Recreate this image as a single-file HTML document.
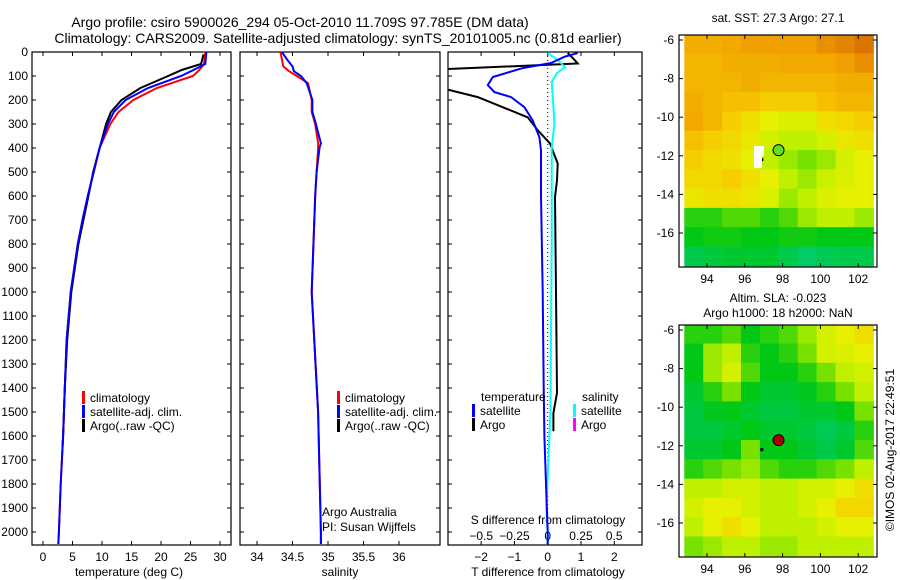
<!DOCTYPE html>
<html><head><meta charset="utf-8">
<style>
body{margin:0;background:#fff;}
svg{display:block;font-family:"Liberation Sans",sans-serif;}
text{fill:#000;}
</style></head>
<body>
<svg id="fig" width="900" height="580" viewBox="0 0 900 580" xmlns="http://www.w3.org/2000/svg">
<defs>
<clipPath id="c3"><rect x="448" y="52" width="194" height="493"/></clipPath>
<clipPath id="cm1"><rect x="679" y="35" width="198" height="232"/></clipPath>
<clipPath id="cm2"><rect x="679" y="325" width="198" height="232"/></clipPath>
</defs>
<text x="300" y="27" font-size="14" text-anchor="middle">Argo profile: csiro 5900026_294 05-Oct-2010 11.709S 97.785E (DM data)</text>
<text x="338" y="43" font-size="14" text-anchor="middle">Climatology: CARS2009. Satellite-adjusted climatology: synTS_20101005.nc (0.81d earlier)</text>
<g id="layer"></g>
<text x="778" y="22" font-size="12" text-anchor="middle">sat. SST: 27.3 Argo: 27.1</text>
<text x="778" y="302" font-size="12" text-anchor="middle">Altim. SLA: -0.023</text>
<text x="778" y="317" font-size="12" text-anchor="middle">Argo h1000: 18 h2000: NaN</text>
<text x="0" y="0" font-size="12" text-anchor="middle" transform="translate(894,450) rotate(-90)">©IMOS 02-Aug-2017 22:49:51</text>
</svg>
<script>
// ---- profile data ----
const tDepthClim=[0,50,75,100,150,200,250,300,400,500,600,700,800,1000,1200,1400,1600,1800,2000,2050];
const tClim=[27.5,27.3,26.5,25.4,19.3,15.3,12.8,11.4,9.6,8.6,7.6,6.7,5.9,4.7,4.0,3.7,3.4,3.0,2.7,2.6];
const tSat=[27.7,27.5,25.5,23.4,17.8,14.0,12.0,11.0,9.6,8.6,7.6,6.7,5.9,4.7,4.0,3.7,3.4,3.0,2.7,2.6];
const tDepthArgo=[10,50,75,100,150,200,250,300,400,500,600,800,1000,1200,1400,1600,1650];
const tArgo=[27.2,26.8,23.5,21.2,16.5,13.3,11.5,10.7,9.6,8.5,7.7,6.0,4.8,4.1,3.7,3.4,3.3];
const sDepth=[0,30,60,80,100,130,200,250,300,380,400,500,600,1000,1500,2000,2050];
const sClim=[34.33,34.35,34.37,34.45,34.56,34.72,34.77,34.77,34.82,34.86,34.86,34.84,34.82,34.77,34.86,34.9,34.9];
const sSat=[34.35,34.42,34.5,34.52,34.62,34.7,34.78,34.78,34.83,34.9,34.88,34.84,34.82,34.77,34.86,34.9,34.9];
const dDepthSat=[4,20,46,67,104,138,167,188,230,285,355,410,600,1000,1400,1600,1800,2000,2050];
const dTSat=[0.9,0.5,0.1,-0.75,-1.65,-1.8,-1.6,-1.1,-0.7,-0.45,-0.25,-0.2,-0.2,-0.15,-0.12,-0.1,-0.05,0,0];
const dDepthArgo=[4,25,48,72,150,188,230,272,326,381,465,535,605,1000,1420,1505,1580];
const dTArgo=[0.6,0.75,0.9,-3.2,-3.2,-2.1,-1.35,-0.6,-0.3,0.07,0.3,0.28,0.22,0.25,0.28,0.17,0.17];
const dSDepth=[4,35,63,88,125,200,300,400,800,1500,1900,2000,2050];
const dSSat=[0,0.08,0.13,0.07,0.03,0.04,0.05,0.03,0.03,0.02,-0.01,0,0];
const depthTicks=[0,100,200,300,400,500,600,700,800,900,1000,1100,1200,1300,1400,1500,1600,1700,1800,1900,2000];
const tTicks=[0,5,10,15,20,25,30];
const sTicks=[34,34.5,35,35.5,36];
const sTickLabels=["34","34.5","35","35.5","36"];
const dtTicks=[-2,-1,0,1,2];
const dsTicks=[-0.5,-0.25,0,0.25,0.5];
const dsTickLabels=["\u22120.5","\u22120.25","0","0.25","0.5"];
// ---- map data ----
const mapLons=[92.8,93.8,94.8,95.8,96.8,97.8,98.8,99.8,100.8,101.8,102.8];
const mapLats=[-5.7,-6.7,-7.7,-8.7,-9.7,-10.7,-11.7,-12.7,-13.7,-14.7,-15.7,-16.7,-17.7];
const sstGrid=[
[0.82,0.82,0.83,0.85,0.85,0.85,0.85,0.88,0.9,0.93],
[0.8,0.8,0.82,0.82,0.82,0.83,0.83,0.83,0.85,0.88],
[0.8,0.8,0.8,0.82,0.8,0.8,0.8,0.8,0.82,0.82],
[0.82,0.8,0.78,0.78,0.75,0.75,0.75,0.78,0.8,0.8],
[0.83,0.8,0.75,0.7,0.65,0.62,0.62,0.7,0.72,0.75],
[0.78,0.75,0.72,0.68,0.6,0.55,0.55,0.6,0.68,0.7],
[0.75,0.72,0.7,0.65,0.55,0.5,0.45,0.5,0.6,0.65],
[0.72,0.72,0.75,0.7,0.65,0.55,0.5,0.58,0.62,0.65],
[0.68,0.7,0.7,0.68,0.62,0.5,0.55,0.62,0.65,0.65],
[0.35,0.35,0.4,0.4,0.35,0.4,0.5,0.55,0.55,0.5],
[0.3,0.32,0.32,0.3,0.3,0.32,0.32,0.3,0.3,0.3],
[0.2,0.22,0.25,0.25,0.25,0.2,0.15,0.18,0.2,0.2]];
const slaGrid=[
[0.35,0.35,0.4,0.3,0.35,0.4,0.5,0.6,0.65,0.7],
[0.3,0.5,0.55,0.35,0.3,0.35,0.45,0.6,0.62,0.65],
[0.3,0.5,0.6,0.4,0.3,0.3,0.35,0.45,0.55,0.6],
[0.25,0.35,0.45,0.3,0.25,0.25,0.28,0.35,0.45,0.55],
[0.22,0.28,0.3,0.25,0.22,0.22,0.25,0.25,0.3,0.45],
[0.22,0.22,0.25,0.3,0.25,0.25,0.22,0.18,0.22,0.35],
[0.25,0.25,0.3,0.45,0.3,0.3,0.25,0.2,0.25,0.4],
[0.35,0.4,0.45,0.5,0.4,0.35,0.35,0.4,0.45,0.55],
[0.55,0.55,0.6,0.6,0.55,0.55,0.6,0.6,0.65,0.7],
[0.6,0.65,0.65,0.6,0.55,0.55,0.6,0.65,0.72,0.72],
[0.55,0.65,0.7,0.65,0.55,0.55,0.55,0.6,0.65,0.65],
[0.45,0.5,0.55,0.55,0.5,0.5,0.55,0.55,0.55,0.55]];
const lonTicks=[94,96,98,100,102];
const latTicks=[-6,-8,-10,-12,-14,-16];
const argoPos=[97.785,-11.709];

const NS="http://www.w3.org/2000/svg";
const layer=document.getElementById('layer');
function mk(tag,attrs,parent){const e=document.createElementNS(NS,tag);for(const k in attrs)e.setAttribute(k,attrs[k]);(parent||layer).appendChild(e);return e;}
function txt(s,x,y,size,anchor){const e=mk('text',{x:x,y:y,'font-size':size,'text-anchor':anchor||'start'});e.textContent=s;return e;}

const BOT=545;
const yD=d=>52+d*0.24;
const xT=t=>43+t*5.9;
const xS=s=>257+(s-34)*71;
const xDT=v=>547.7+v*33.3;
const xDS=v=>547.7+v*133;
const xLon=l=>707+(l-94)*18.9;
const yLat1=l=>40+(-6-l)*19.3;
const yLat2=l=>330+(-6-l)*19.3;

function line(xs,ys,fx,color,name,w,clip){
  const pts=xs.map((v,i)=>fx(v).toFixed(1)+','+Math.min(yD(ys[i]),BOT).toFixed(1)).join(' ');
  const p=mk('polyline',{points:pts,fill:'none',stroke:color,'stroke-width':w||2});
  if(clip)p.setAttribute('clip-path',clip);
  
  
}
function box(x,y,w,h,name){
  const r=mk('rect',{x:x,y:y,width:w,height:h,fill:'none',stroke:'#000','stroke-width':1.2});
  
  
}
function legendRow(x,y,color,label,name){
  const r=mk('rect',{x:x,y:y-7,width:3,height:13,fill:color});
  
  
  const t=txt(label,x+8,y+4,12);
  
  
}

// depth axis
depthTicks.forEach(d=>{
  const y=yD(d);
  [[32,231],[240,440],[448,642]].forEach(([a,b])=>{mk('line',{x1:a,y1:y,x2:a+4,y2:y,stroke:'#000'});mk('line',{x1:b,y1:y,x2:b-4,y2:y,stroke:'#000'});});
  const t=txt(String(d),28,y+4,12,'end');
  
  
});

// panel 1 temperature
box(32,52,199,BOT-52,'temperature-panel');
tTicks.forEach(v=>{const x=xT(v);mk('line',{x1:x,y1:BOT,x2:x,y2:BOT-4,stroke:'#000'});mk('line',{x1:x,y1:52,x2:x,y2:56,stroke:'#000'});
  const t=txt(String(v),x,561,12,'middle');
  
  });
const tx=txt('temperature (deg C)',129,576,12,'middle');


line(tClim,tDepthClim,xT,'#f00','temperature-climatology-line');
line(tArgo,tDepthArgo,xT,'#000','temperature-argo-line');
line(tSat,tDepthClim,xT,'#00f','temperature-satellite-line');
legendRow(82,398,'#f00','climatology','temp-legend-climatology');
legendRow(82,412,'#00f','satellite-adj. clim.','temp-legend-satellite');
legendRow(82,426,'#000','Argo(..raw -QC)','temp-legend-argo');

// panel 2 salinity
box(240,52,200,BOT-52,'salinity-panel');
sTicks.forEach((v,i)=>{const x=xS(v);mk('line',{x1:x,y1:BOT,x2:x,y2:BOT-4,stroke:'#000'});mk('line',{x1:x,y1:52,x2:x,y2:56,stroke:'#000'});
  const t=txt(sTickLabels[i],x,561,12,'middle');
  
  });
const sx=txt('salinity',340,576,12,'middle');


line(sClim,sDepth,xS,'#f00','salinity-climatology-line');
line(sSat,sDepth,xS,'#00f','salinity-satellite-line');
legendRow(337,398,'#f00','climatology','sal-legend-climatology');
legendRow(337,412,'#00f','satellite-adj. clim.','sal-legend-satellite');
legendRow(337,426,'#000','Argo(..raw -QC)','sal-legend-argo');
const a1=txt('Argo Australia',322,516,12);


const a2=txt('PI: Susan Wijffels',322,531,12);



// panel 3 differences
box(448,52,194,BOT-52,'difference-panel');
const z=mk('line',{x1:xDT(0),y1:56,x2:xDT(0),y2:BOT,stroke:'#000','stroke-dasharray':'1,3'});


dtTicks.forEach(v=>{const x=xDT(v);mk('line',{x1:x,y1:BOT,x2:x,y2:BOT-4,stroke:'#000'});mk('line',{x1:x,y1:52,x2:x,y2:56,stroke:'#000'});
  const t=txt(v<0?'\u2212'+Math.abs(v):String(v),x,561,12,'middle');
  
  });
dsTicks.forEach((v,i)=>{const x=xDS(v);
  const t=txt(dsTickLabels[i],x,540,12,'middle');
  
  });
const dsT=txt('S difference from climatology',548,524,12,'middle');


const dtT=txt('T difference from climatology',548,576,12,'middle');


line(dTArgo,dDepthArgo,xDT,'#000','t-diff-argo-line',2,'url(#c3)');
line(dSSat,dSDepth,xDS,'#0ff','s-diff-satellite-line',2,'url(#c3)');
line(dTSat,dDepthSat,xDT,'#00f','t-diff-satellite-line',2,'url(#c3)');
const lt=txt('temperature',481,401,12);


const ls=txt('salinity',582,401,12);


legendRow(472,411,'#00f','satellite','diff-legend-t-satellite');
legendRow(472,425,'#000','Argo','diff-legend-t-argo');
legendRow(573,411,'#0ff','satellite','diff-legend-s-satellite');
legendRow(573,425,'#f0f','Argo','diff-legend-s-argo');

// colormap
const cstops=[[0,[0,205,185]],[0.3,[0,200,20]],[0.45,[120,225,0]],[0.55,[190,240,0]],[0.65,[230,240,0]],[0.75,[245,205,0]],[0.85,[240,160,0]],[1,[200,80,0]]];
function cmap(v){for(let i=1;i<cstops.length;i++){if(v<=cstops[i][0]){const [a,ca]=cstops[i-1],[b,cb]=cstops[i];const f=(v-a)/(b-a);return 'rgb('+ca.map((c,k)=>Math.round(c+(cb[k]-c)*f)).join(',')+')';}}return 'rgb(200,80,0)';}

function drawMap(grid,yLat,top,clipId,name,markerFill){
  const g=mk('g',{'clip-path':'url(#'+clipId+')'});
  
  
  grid.forEach((row,r)=>row.forEach((v,c)=>{
    const x0=xLon(mapLons[c]),x1=xLon(mapLons[c+1]),y0=yLat(mapLats[r]),y1=yLat(mapLats[r+1]);
    const cell=mk('rect',{x:x0.toFixed(1),y:y0.toFixed(1),width:(x1-x0+0.6).toFixed(1),height:(y1-y0+0.6).toFixed(1),fill:cmap(v)},g);
    
    
  }));
  box(679,top,198,232,name+'-frame');
  lonTicks.forEach(l=>{const x=xLon(l);mk('line',{x1:x,y1:top+232,x2:x,y2:top+228,stroke:'#000'});mk('line',{x1:x,y1:top,x2:x,y2:top+4,stroke:'#000'});
    const t=txt(String(l),x,top+248,12,'middle');
    
    });
  latTicks.forEach(l=>{const y=yLat(l);mk('line',{x1:679,y1:y,x2:683,y2:y,stroke:'#000'});mk('line',{x1:877,y1:y,x2:873,y2:y,stroke:'#000'});
    const t=txt(String(l),674,y+4,12,'end');
    
    });
  const dot=mk('rect',{x:xLon(96.9)-1.5,y:yLat(-12.2)-1.5,width:3,height:3,fill:'#000'});
  
  
  const m=mk('circle',{cx:xLon(argoPos[0]),cy:yLat(argoPos[1]),r:5.5,fill:markerFill,stroke:'#000','stroke-width':1});
  
  
}
drawMap(sstGrid,yLat1,35,'cm1','sst-map','#66dd22');
const gap=mk('path',{d:'M754,146h10v10h-2v12h-8z',fill:'#fff'});


drawMap(slaGrid,yLat2,325,'cm2','sla-map','#aa0000');
</script>
</body></html>
